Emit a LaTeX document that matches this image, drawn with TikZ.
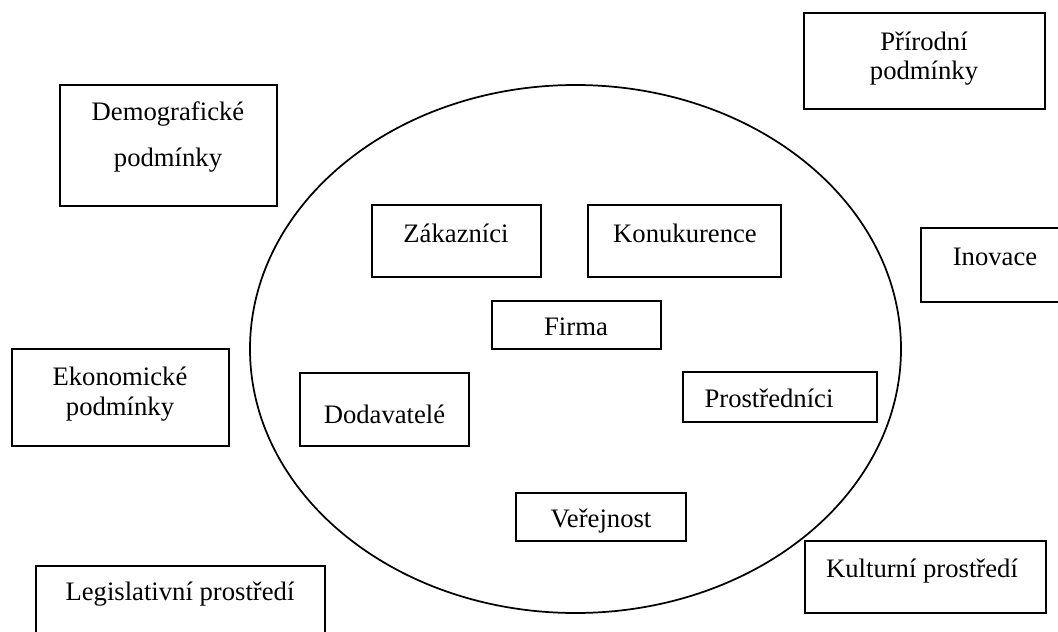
\documentclass[tikz,border=0pt]{standalone}
\usepackage{fontspec}
\setmainfont{Liberation Serif}
\begin{document}
\begin{tikzpicture}[x=0.75pt,y=0.75pt,yscale=-1,xscale=1,
  box/.style={line width=1.1pt},
  txt/.style={anchor=base,inner sep=0.75pt,font=\fontsize{20}{24}\selectfont}]
\useasboundingbox (0,0) rectangle (1058,632);

%Shape: Ellipse
\draw [line width=1.3pt] (575.5,349) ellipse [x radius=325.5, y radius=264];

%Shape: Rectangle
\draw [box] (804,13) -- (1045,13) -- (1045,109) -- (804,109) -- cycle ;
%Shape: Rectangle
\draw [box] (60,85) -- (277,85) -- (277,206) -- (60,206) -- cycle ;
%Shape: Rectangle
\draw [box] (372,205) -- (541,205) -- (541,277) -- (372,277) -- cycle ;
%Shape: Rectangle
\draw [box] (588,205) -- (781,205) -- (781,277) -- (588,277) -- cycle ;
%Shape: Rectangle
\draw [box] (1070,228) -- (921,228) -- (921,302) -- (1070,302) ;
%Shape: Rectangle
\draw [box] (492,301) -- (661,301) -- (661,349) -- (492,349) -- cycle ;
%Shape: Rectangle
\draw [box] (12,349) -- (229,349) -- (229,446) -- (12,446) -- cycle ;
%Shape: Rectangle
\draw [box] (300,373) -- (469,373) -- (469,446) -- (300,446) -- cycle ;
%Shape: Rectangle
\draw [box] (683,372) -- (877,372) -- (877,422) -- (683,422) -- cycle ;
%Shape: Rectangle
\draw [box] (516,493) -- (686,493) -- (686,541) -- (516,541) -- cycle ;
%Shape: Rectangle
\draw [box] (805,541) -- (1046,541) -- (1046,613) -- (805,613) -- cycle ;
%Shape: Rectangle
\draw [box] (36,645) -- (36,566) -- (325,566) -- (325,645) ;

% Text Node
\draw (924,50) node (prirodni) [txt] {Přírodní};
% Text Node
\draw (924,79) node (prirodni2) [txt] {podmínky};
% Text Node
\draw (168,120) node (demo) [txt] {Demografické};
% Text Node
\draw (168,166) node (demo2) [txt] {podmínky};
% Text Node
\draw (456,242) node (zakaznici) [txt] {Zákazníci};
% Text Node
\draw (685,242) node (konkurence) [txt] {Konukurence};
% Text Node
\draw (995,265) node (inovace) [txt] {Inovace};
% Text Node
\draw (576,335) node (firma) [txt] {Firma};
% Text Node
\draw (120,385) node (ekon) [txt] {Ekonomické};
% Text Node
\draw (120,415) node (ekon2) [txt] {podmínky};
% Text Node
\draw (384.5,423) node (dodavatele) [txt] {Dodavatelé};
% Text Node
\draw (769,407) node (prostrednici) [txt] {Prostředníci};
% Text Node
\draw (601,527) node (verejnost) [txt] {Veřejnost};
% Text Node
\draw (922,577) node (kultura) [txt] {Kulturní prostředí};
% Text Node
\draw (180,600) node (legis) [txt] {Legislativní prostředí};
\end{tikzpicture}
\end{document}
